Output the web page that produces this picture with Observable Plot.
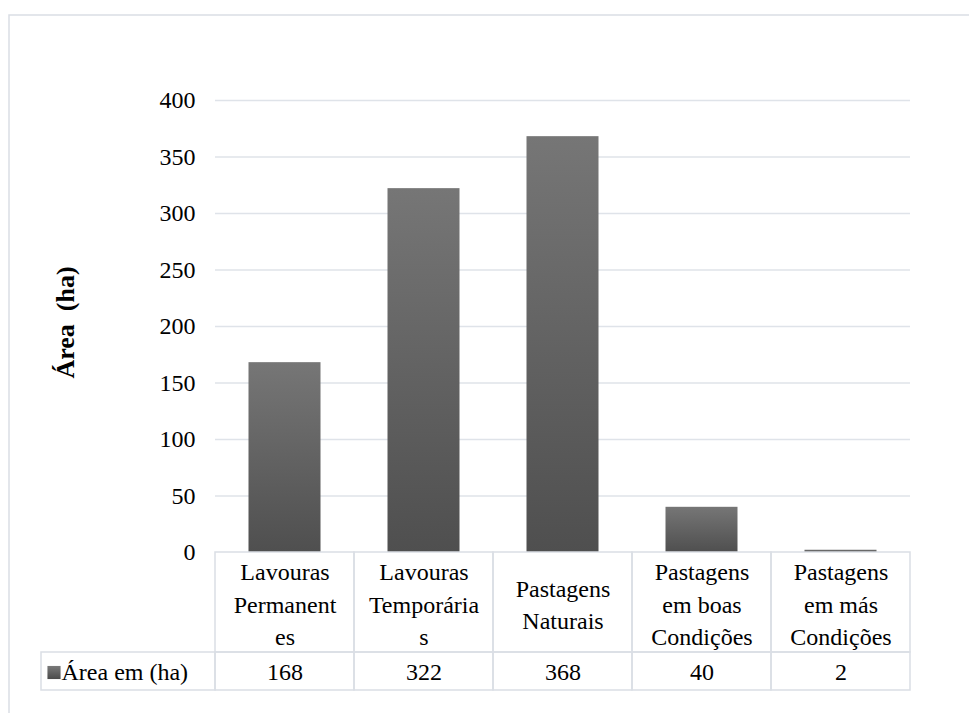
<!DOCTYPE html>
<html>
<head>
<meta charset="utf-8">
<script src="https://cdn.jsdelivr.net/npm/d3@7"></script>
<script src="https://cdn.jsdelivr.net/npm/@observablehq/plot@0.6"></script>
<style>
  html, body { margin: 0; padding: 0; background: #fff; font-family: "Liberation Serif", serif; }
  #defs { position: absolute; width: 0; height: 0; overflow: hidden; }
</style>
</head>
<body>
<svg id="defs" width="0" height="0" aria-hidden="true">
  <defs>
    <linearGradient id="barGrad" x1="0" y1="0" x2="0" y2="1">
      <stop offset="0" stop-color="#767676"/>
      <stop offset="1" stop-color="#4f4f4f"/>
    </linearGradient>
    <linearGradient id="sqGrad" x1="0" y1="0" x2="0" y2="1">
      <stop offset="0" stop-color="#7a7a7a"/>
      <stop offset="1" stop-color="#4a4a4a"/>
    </linearGradient>
  </defs>
</svg>
<div id="chart"></div>
<script>
const categories = ["Lavouras Permanentes", "Lavouras Temporárias", "Pastagens Naturais", "Pastagens em boas Condições", "Pastagens em más Condições"];
const tickLabels = ["Lavouras\nPermanent\nes", "Lavouras\nTemporária\ns", "Pastagens\nNaturais", "Pastagens\nem boas\nCondições", "Pastagens\nem más\nCondições"];
const values = [168, 322, 368, 40, 2];
const seriesName = "Área em (ha)";
const yTitle = "Área\u00a0 (ha)";
const yTicks = [0, 50, 100, 150, 200, 250, 300, 350, 400];

const data = categories.map((c, i) => ({cat: c, label: tickLabels[i], value: values[i]}));

const lineColor = "#dadee5";
const serif = "Liberation Serif";

const chart = Plot.plot({
  width: 969,
  height: 713,
  marginLeft: 215,
  marginRight: 59,
  marginTop: 100,
  marginBottom: 161,
  style: {fontSize: "24px", fontFamily: serif},
  x: {domain: categories, padding: 0, axis: null},
  y: {domain: [0, 400], ticks: yTicks, tickSize: 0, tickPadding: 20, label: null, tickFormat: d => String(d)},
  marks: [
    Plot.frame({stroke: lineColor, strokeWidth: 1.5, insetLeft: -206.5, insetTop: -85.5, insetRight: -80, insetBottom: -180}),
    Plot.ruleY(yTicks.filter(d => d > 0), {stroke: "#dfe3e9", strokeWidth: 1.5}),
    Plot.barY(data, {x: "cat", y: "value", fill: "url(#barGrad)", insetLeft: 33.5, insetRight: 33.5}),
    // data table: header row
    Plot.cell(data, {x: "cat", fill: "none", stroke: lineColor, strokeWidth: 1.5, insetTop: 452, insetBottom: -100}),
    // data table: values row
    Plot.cell(data, {x: "cat", fill: "none", stroke: lineColor, strokeWidth: 1.5, insetTop: 552, insetBottom: -138}),
    Plot.cell([categories[0]], {x: d => d, fill: "none", stroke: lineColor, strokeWidth: 1.5, insetTop: 552, insetBottom: -138, insetLeft: -174, insetRight: 139}),
    Plot.text(data, {x: "cat", text: "label", frameAnchor: "bottom", dy: 50, lineAnchor: "middle", lineHeight: 1.35, fontFamily: serif}),
    Plot.text(data, {x: "cat", text: d => String(d.value), frameAnchor: "bottom", dy: 120, lineAnchor: "middle", fontFamily: serif}),
    Plot.dot([seriesName], {frameAnchor: "bottom-left", dx: 53.5 - 215, dy: 120, symbol: "square", r: 7.4, fill: "url(#sqGrad)"}),
    Plot.text([seriesName], {frameAnchor: "bottom-left", text: d => d, dx: 61 - 215, dy: 120, textAnchor: "start", lineAnchor: "middle", fontFamily: serif}),
    Plot.text([yTitle], {frameAnchor: "left", text: d => d, dx: -150, dy: -4, rotate: -90, textAnchor: "middle", fontWeight: "bold", fontSize: 26, fontFamily: serif})
  ]
});
document.getElementById("chart").appendChild(chart);
</script>
</body>
</html>
